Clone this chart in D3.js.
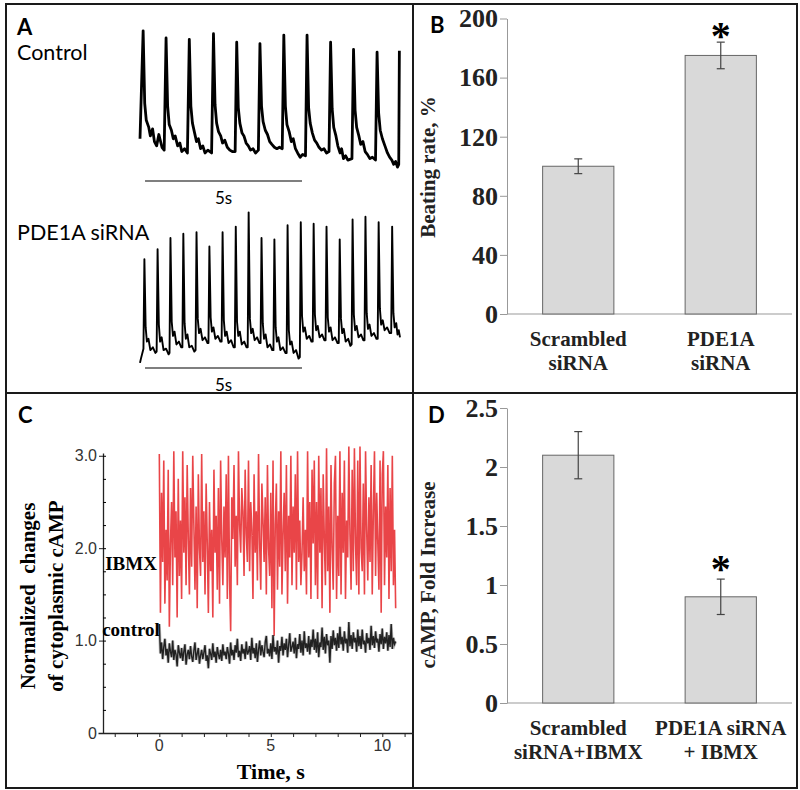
<!DOCTYPE html>
<html>
<head>
<meta charset="utf-8">
<script src="https://cdn.jsdelivr.net/npm/d3@7"></script>
<style>
  body { margin: 0; background: #fff; }
  svg text { font-family: "Liberation Serif", "Times New Roman", serif; }
</style>
</head>
<body>
<svg id="fig" width="800" height="790"></svg>

<script>
// ---------- data ----------
// A: beating traces, [time (s), amplitude (a.u.)]
var controlTrace = [
  [0,22],[0.1,98],[0.15,47],[0.2,35],[0.28,30],[0.33,24],[0.4,29],[0.46,20],[0.53,17],[0.6,25],[0.7,16],[0.77,14],
  [0.83,93],[0.88,45],[0.93,32],[1.0,28],[1.06,22],[1.12,24],[1.2,17],[1.27,19],[1.33,13],[1.42,15],[1.51,12],
  [1.57,92],[1.62,45],[1.67,33],[1.74,26],[1.8,20],[1.86,22],[1.93,15],[2.0,17],[2.07,12],[2.16,14],[2.28,12],
  [2.34,96],[2.39,46],[2.44,33],[2.5,27],[2.57,24],[2.63,19],[2.7,21],[2.78,16],[2.86,14],[2.94,13],[3.03,13],
  [3.08,90],[3.13,44],[3.18,33],[3.25,26],[3.31,24],[3.38,19],[3.45,17],[3.52,14],[3.6,15],[3.68,12],[3.77,14],
  [3.82,89],[3.87,45],[3.92,34],[3.99,28],[4.06,25],[4.13,20],[4.2,18],[4.28,16],[4.36,15],[4.44,16],[4.53,15],
  [4.58,95],[4.63,45],[4.68,32],[4.75,27],[4.82,20],[4.88,22],[4.95,15],[5.02,12],[5.1,9],[5.18,11],[5.27,10],
  [5.32,95],[5.37,44],[5.42,33],[5.49,26],[5.56,21],[5.63,19],[5.7,16],[5.78,14],[5.86,15],[5.94,12],[6.02,13],
  [6.07,90],[6.12,43],[6.17,30],[6.24,24],[6.3,17],[6.37,12],[6.42,15],[6.48,8],[6.55,10],[6.62,7],[6.75,8],
  [6.8,85],[6.85,42],[6.9,30],[6.97,24],[7.03,18],[7.1,20],[7.17,13],[7.24,11],[7.32,8],[7.4,9],[7.5,7],
  [7.55,83],[7.6,40],[7.65,28],[7.72,22],[7.8,17],[7.88,12],[7.95,9],[8.02,7],[8.08,4],[8.14,6],[8.2,2],[8.24,4],[8.26,84]
];
var pde1aTrace = [
  [0,5],[0.03,8],[0.11,15],
  [0.14,78],[0.18,30],[0.22,20],[0.27,22],[0.33,14],[0.41,16],[0.49,12],[0.53,13],
  [0.56,85],[0.60,32],[0.64,20],[0.69,23],[0.75,14],[0.83,15],[0.91,11],[0.94,12],
  [0.97,93],[1.01,34],[1.05,24],[1.10,27],[1.16,18],[1.24,20],[1.31,16],[1.35,16],
  [1.38,96],[1.42,33],[1.46,22],[1.51,25],[1.57,16],[1.65,17],[1.73,13],[1.77,14],
  [1.80,97],[1.84,36],[1.88,26],[1.93,29],[1.99,21],[2.07,23],[2.15,19],[2.18,19],
  [2.21,87],[2.25,37],[2.29,27],[2.34,30],[2.40,22],[2.48,24],[2.56,20],[2.60,20],
  [2.63,97],[2.67,35],[2.71,24],[2.76,27],[2.82,19],[2.90,21],[2.98,16],[3.02,16],
  [3.05,101],[3.09,34],[3.13,24],[3.18,27],[3.24,18],[3.32,20],[3.39,16],[3.43,16],
  [3.46,111],[3.50,36],[3.54,26],[3.59,29],[3.65,21],[3.73,23],[3.80,19],[3.84,19],
  [3.87,93],[3.91,33],[3.95,22],[4.00,25],[4.06,16],[4.14,18],[4.21,14],[4.25,14],
  [4.28,92],[4.32,30],[4.36,20],[4.41,23],[4.47,14],[4.55,16],[4.63,12],[4.67,12],
  [4.70,102],[4.74,28],[4.78,18],[4.83,20],[4.89,12],[4.97,14],[5.05,8],[5.09,9],
  [5.12,104],[5.16,38],[5.20,27],[5.25,30],[5.31,22],[5.39,24],[5.46,20],[5.50,20],
  [5.53,103],[5.57,39],[5.61,28],[5.66,31],[5.72,23],[5.80,25],[5.87,21],[5.91,21],
  [5.94,101],[5.98,37],[6.02,27],[6.07,30],[6.13,21],[6.21,23],[6.29,19],[6.33,19],
  [6.36,92],[6.40,36],[6.44,26],[6.49,29],[6.55,20],[6.63,22],[6.70,17],[6.74,18],
  [6.77,106],[6.81,39],[6.85,28],[6.90,31],[6.96,23],[7.04,25],[7.11,21],[7.15,21],
  [7.18,108],[7.22,40],[7.26,29],[7.31,32],[7.37,24],[7.45,26],[7.53,22],[7.57,22],
  [7.60,104],[7.64,43],[7.68,32],[7.73,35],[7.79,28],[7.87,30],[7.95,26],[8.00,26],
  [8.03,101],[8.07,40],[8.11,30],[8.16,33],[8.20,25],[8.24,28],[8.28,23]
];
var scaleBar = [0.16, 5.16];   // 5 s

// B: beating rate
var beatLabels = [["Scrambled", "siRNA"], ["PDE1A", "siRNA"]];
var beatMean = [100, 175];
var beatErr = [5, 9];
var beatStar = [false, true];
var beatTicks = [0, 40, 80, 120, 160, 200];

// C: cAMP traces, sampled every 0.05 s from t = 0
var cStep = 0.05;
var ibmx = [
  3.02,1.30,2.60,1.85,2.95,1.40,2.20,1.65,2.85,1.15,2.05,2.50,1.60,3.05,1.90,2.40,1.25,2.75,1.70,2.30,
  1.45,3.05,1.95,2.55,1.60,2.90,2.10,1.50,2.65,1.80,3.00,2.25,1.55,2.45,1.35,2.80,2.00,1.70,3.02,1.85,
  2.40,1.50,2.70,2.05,1.30,2.50,1.75,2.20,1.25,2.85,1.95,2.35,1.55,2.65,1.40,2.95,2.10,1.60,2.45,1.90,
  2.80,1.45,3.00,1.65,1.10,2.55,2.10,2.90,1.80,2.35,1.60,3.05,2.25,1.95,2.65,2.40,1.70,2.85,2.15,1.85,
  2.95,1.75,2.50,2.20,1.45,2.80,1.95,2.40,1.65,3.02,2.05,1.55,2.70,2.30,1.85,2.55,1.50,2.90,2.00,1.70,
  2.60,1.35,2.95,1.05,2.25,2.70,1.55,2.40,1.80,3.05,1.50,2.15,2.60,1.75,2.90,1.40,2.35,1.90,3.00,1.60,
  2.45,1.95,2.80,1.55,3.05,1.85,2.30,1.60,1.95,2.55,1.75,2.20,1.50,3.05,1.90,2.50,1.45,2.85,2.05,2.95,
  1.60,2.50,1.45,3.00,1.95,2.65,1.35,2.80,2.10,1.60,3.08,1.75,2.45,1.30,2.90,2.00,1.55,2.70,3.00,1.45,
  2.35,1.70,3.05,1.50,2.60,1.95,2.95,1.45,2.30,1.90,3.10,2.15,1.55,2.85,1.75,3.08,2.05,1.60,2.95,1.50,
  3.10,2.00,1.75,2.70,1.50,3.05,2.20,1.65,2.55,1.85,2.90,1.50,2.40,3.05,1.70,2.60,2.05,1.55,2.95,1.30,
  2.80,3.05,1.60,2.45,1.90,2.90,1.45,2.65,1.75,3.00,1.60,2.20,1.35
];
var ctrl = [
  1.18,0.86,0.98,0.80,0.93,1.02,0.84,0.91,0.76,0.97,0.88,0.82,1.00,0.79,0.90,0.85,0.72,0.95,0.87,0.81,
  0.92,0.78,0.88,0.96,0.74,0.85,0.90,0.80,0.94,0.83,0.77,0.89,0.98,0.79,0.86,0.92,0.75,0.84,0.90,0.80,
  0.87,0.95,0.78,0.84,0.70,0.91,0.86,0.79,0.97,0.82,0.88,0.76,0.93,0.85,0.80,0.90,0.78,0.96,0.84,0.88,
  0.80,0.93,0.86,0.75,0.98,0.84,0.90,0.79,0.95,0.87,1.02,0.82,0.89,0.78,0.96,0.86,0.91,0.80,0.99,0.85,
  0.88,0.94,0.79,1.03,0.86,0.92,0.81,0.97,0.77,0.90,1.00,0.84,0.95,0.88,0.82,0.98,1.05,0.86,0.91,0.83,
  0.97,0.80,1.06,0.88,0.93,0.85,1.00,0.76,0.94,0.89,1.04,0.84,0.97,0.90,1.02,0.82,0.95,1.08,0.88,0.93,
  0.99,0.86,1.03,0.81,0.96,0.91,1.07,0.87,1.00,0.84,1.10,0.92,0.97,0.88,1.05,0.85,1.01,0.93,1.12,0.90,
  1.02,0.87,1.09,0.82,0.98,0.93,1.14,0.90,1.04,0.86,1.07,0.95,1.00,0.76,1.05,0.91,1.11,0.95,1.03,0.89,
  1.08,0.92,1.15,0.96,1.04,0.89,1.10,0.97,1.02,0.87,1.20,0.94,1.06,0.91,1.09,0.98,1.03,0.88,1.12,0.94,
  1.05,0.91,1.12,0.96,1.00,0.87,1.08,0.97,1.03,0.90,1.16,0.95,1.05,0.92,1.10,0.98,1.02,0.88,1.07,0.96,
  1.13,0.91,1.04,0.97,1.09,0.89,1.06,0.93,1.18,0.91,1.03,0.96,0.99
];
var cYTicks = [0, 1, 2, 3];
var cXTicks = [-2, -1, 0, 1, 2, 3, 4, 5, 6, 7, 8, 9, 10, 11];
var cXLabels = [0, 5, 10];

// D: cAMP fold increase
var campLabels = [["Scrambled", "siRNA+IBMX"], ["PDE1A siRNA", "+ IBMX"]];
var campMean = [2.1, 0.9];
var campErr = [0.2, 0.15];
var campStar = [false, true];
var campTicks = [0, 0.5, 1, 1.5, 2, 2.5];

// ---------- drawing ----------
var svg = d3.select("#fig");
var sans = "Lato, 'Open Sans', sans-serif";
var serif = "'Liberation Serif', 'Times New Roman', serif";
var arial = "'Liberation Sans', Arial, sans-serif";

// panel frame
svg.append("rect").attr("x", 6).attr("y", 4).attr("width", 791).attr("height", 784)
  .attr("fill", "none").attr("stroke", "#1a1a1a").attr("stroke-width", 2);
svg.append("line").attr("x1", 413).attr("x2", 413).attr("y1", 4).attr("y2", 788)
  .attr("stroke", "#1a1a1a").attr("stroke-width", 2);
svg.append("line").attr("x1", 6).attr("x2", 797).attr("y1", 393).attr("y2", 393)
  .attr("stroke", "#1a1a1a").attr("stroke-width", 2);

function panelLetter(t, x, y) {
  svg.append("text").attr("x", x).attr("y", y).text(t)
    .style("font-family", sans).style("font-weight", 700).style("font-size", "22px");
}

// ---- A ----
panelLetter("A", 17, 35);
svg.append("text").attr("x", 17).attr("y", 60).text("Control")
  .style("font-family", sans).style("font-size", "21.5px");
svg.append("text").attr("x", 17).attr("y", 240).text("PDE1A siRNA")
  .style("font-family", sans).style("font-size", "21.5px");

var xA = d3.scaleLinear().domain([0, 8.28]).range([140, 400]);
var yCtl = d3.scaleLinear().domain([0, 100]).range([170, 28]);
var yPde = d3.scaleLinear().domain([0, 100]).range([370, 228]);

svg.append("path").datum(controlTrace)
  .attr("d", d3.line().x(function (d) { return xA(d[0]); }).y(function (d) { return yCtl(d[1]); }))
  .attr("fill", "none").attr("stroke", "#000").attr("stroke-width", 2.8).attr("stroke-linejoin", "round");
svg.append("path").datum(pde1aTrace)
  .attr("d", d3.line().x(function (d) { return xA(d[0]); }).y(function (d) { return yPde(d[1]); }))
  .attr("fill", "none").attr("stroke", "#000").attr("stroke-width", 1.9).attr("stroke-linejoin", "round");

[181, 368].forEach(function (yb) {
  svg.append("line").attr("x1", xA(scaleBar[0])).attr("x2", xA(scaleBar[1]))
    .attr("y1", yb).attr("y2", yb).attr("stroke", "#555").attr("stroke-width", 1.5);
  svg.append("text").attr("x", xA((scaleBar[0] + scaleBar[1]) / 2)).attr("y", yb + 23)
    .attr("text-anchor", "middle").text("5s")
    .style("font-family", sans).style("font-size", "17px");
});

// ---- B & D bar panels ----
function barPanel(opt) {
  var g = svg.append("g");
  var x = d3.scaleBand().domain(opt.labels.map(function (d, i) { return i; }))
    .range([507, 792]).paddingInner(0.5).paddingOuter(0.25);
  var y = d3.scaleLinear().domain([0, opt.max]).range([opt.y0, opt.y1]);

  var ax = g.append("g").attr("transform", "translate(507,0)")
    .call(d3.axisLeft(y).tickValues(opt.ticks).tickSize(7).tickSizeOuter(0).tickFormat(""));
  ax.select(".domain").attr("stroke", "#999");
  ax.selectAll(".tick line").attr("stroke", "#999");

  g.selectAll("text.ylab").data(opt.ticks).enter().append("text")
    .attr("class", "ylab")
    .attr("x", 498).attr("y", function (d) { return y(d); }).attr("dy", "0.34em")
    .attr("text-anchor", "end").attr("fill", "#222")
    .attr("font-family", serif).attr("font-weight", "bold").attr("font-size", 26)
    .text(function (d) { return String(d); });

  g.append("line").attr("x1", 507).attr("x2", 792).attr("y1", y(0)).attr("y2", y(0))
    .attr("stroke", "#999").attr("stroke-width", 1);

  g.selectAll("rect.bar").data(opt.mean).enter().append("rect")
    .attr("x", function (d, i) { return x(i); })
    .attr("width", x.bandwidth())
    .attr("y", function (d) { return y(d); })
    .attr("height", function (d) { return y(0) - y(d); })
    .attr("fill", "#d9d9d9").attr("stroke", "#666").attr("stroke-width", 1);

  opt.mean.forEach(function (m, i) {
    var cx = x(i) + x.bandwidth() / 2;
    var lo = y(m - opt.err[i]), hi = y(m + opt.err[i]);
    g.append("line").attr("x1", cx).attr("x2", cx).attr("y1", lo).attr("y2", hi)
      .attr("stroke", "#444").attr("stroke-width", 1.2);
    [lo, hi].forEach(function (yy) {
      g.append("line").attr("x1", cx - 4).attr("x2", cx + 4).attr("y1", yy).attr("y2", yy)
        .attr("stroke", "#444").attr("stroke-width", 1.2);
    });
    if (opt.star[i]) {
      g.append("text").attr("x", cx).attr("y", hi + opt.starDy).attr("text-anchor", "middle").text("*")
        .style("font-family", serif).style("font-weight", 700).style("font-size", "40px");
    }
    opt.labels[i].forEach(function (line, k) {
      g.append("text").attr("x", cx).attr("y", y(0) + 32 + k * 24).attr("text-anchor", "middle").text(line)
        .attr("fill", "#222")
        .style("font-family", serif).style("font-weight", 700).style("font-size", "21px");
    });
  });

  g.append("text").attr("transform", "translate(428," + opt.titleY + ") rotate(-90)")
    .attr("dy", "0.35em").attr("text-anchor", "middle").text(opt.title).attr("fill", "#222")
    .style("font-family", serif).style("font-weight", 700).style("font-size", "21px");
}

panelLetter("B", 430, 33);
barPanel({ labels: beatLabels, mean: beatMean, err: beatErr, star: beatStar, ticks: beatTicks,
  max: 200, y0: 314, y1: 18.5, title: "Beating rate, %", titleY: 167, starDy: 7 });

panelLetter("D", 428, 423);
barPanel({ labels: campLabels, mean: campMean, err: campErr, star: campStar, ticks: campTicks,
  max: 2.5, y0: 703, y1: 408, title: "cAMP, Fold Increase", titleY: 575, starDy: 3 });

// ---- C ----
panelLetter("C", 18, 423);
var xC = d3.scaleLinear().domain([-2.75, 11.4]).range([98, 413.5]);
var yC = d3.scaleLinear().domain([0, 3.03]).range([733, 453]);

var cLine = d3.line().x(function (d, i) { return xC(i * cStep); }).y(function (d) { return yC(d); });
svg.append("path").datum(ibmx).attr("d", cLine)
  .attr("fill", "none").attr("stroke", "#e3161a").attr("stroke-opacity", 0.8).attr("stroke-width", 1.6);
svg.append("path").datum(ctrl).attr("d", cLine)
  .attr("fill", "none").attr("stroke", "#777").attr("stroke-opacity", 0.5).attr("stroke-width", 3);
svg.append("path").datum(ctrl).attr("d", cLine)
  .attr("fill", "none").attr("stroke", "#111").attr("stroke-opacity", 0.9).attr("stroke-width", 1.4);

var axY = svg.append("g").attr("transform", "translate(103,0)")
  .call(d3.axisLeft(yC).tickValues(cYTicks).tickSize(4).tickSizeOuter(0).tickFormat(""));
svg.append("g").attr("transform", "translate(103,0)")
  .call(d3.axisLeft(yC).tickValues(d3.range(0, 3.01, 0.25)).tickSize(-3).tickSizeOuter(0).tickFormat(""))
  .select(".domain").remove();
var axX = svg.append("g").attr("transform", "translate(0,733)")
  .call(d3.axisBottom(xC).tickValues(cXTicks).tickSize(4).tickSizeOuter(0).tickFormat(""));
[axY, axX].forEach(function (a) {
  a.select(".domain").attr("stroke", "#222").attr("stroke-width", 1.3);
  a.selectAll(".tick line").attr("stroke", "#222");
});
svg.selectAll("text.cy").data(cYTicks).enter().append("text")
  .attr("class", "cy").attr("x", 97).attr("y", function (d) { return yC(d); }).attr("dy", "0.35em")
  .attr("text-anchor", "end").attr("fill", "#333")
  .style("font-family", arial).style("font-size", "16px")
  .text(function (d) { return d === 0 ? "0" : d3.format(".1f")(d); });
svg.selectAll("text.cx").data(cXLabels).enter().append("text")
  .attr("class", "cx").attr("x", function (d) { return xC(d); }).attr("y", 751)
  .attr("text-anchor", "middle").attr("fill", "#333")
  .style("font-family", arial).style("font-size", "16px")
  .text(function (d) { return d; });

svg.append("text").attr("x", 131).attr("y", 570).attr("text-anchor", "middle").text("IBMX")
  .style("font-weight", 700).style("font-size", "19px");
svg.append("text").attr("x", 131).attr("y", 636).attr("text-anchor", "middle").text("control")
  .style("font-weight", 700).style("font-size", "19px");

svg.append("text").attr("x", xC(5)).attr("y", 779).attr("text-anchor", "middle").text("Time, s")
  .style("font-weight", 700).style("font-size", "22px");
[["Normalized  changes", 28], ["of cytoplasmic cAMP", 56]].forEach(function (l) {
  svg.append("text").attr("transform", "translate(" + l[1] + ",596) rotate(-90)")
    .attr("dy", "0.35em").attr("text-anchor", "middle").text(l[0])
    .style("font-weight", 700).style("font-size", "21px").style("white-space", "pre");
});
</script>
</body>
</html>
